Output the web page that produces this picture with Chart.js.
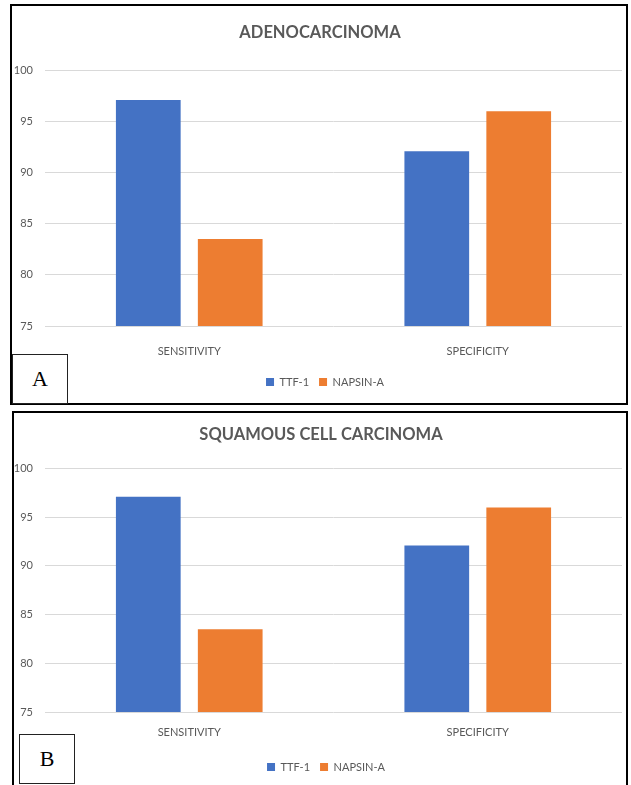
<!DOCTYPE html>
<html>
<head>
<meta charset="utf-8">
<script src="https://cdn.jsdelivr.net/npm/chart.js@4.4.0/dist/chart.umd.min.js"></script>
<style>
  body { margin: 0; width: 631px; height: 785px; overflow: hidden; background: #fff; position: relative; }
  .panel { position: absolute; border: 2.5px solid #000; box-sizing: border-box; }
  .wrap { position: absolute; }
  .tag {
    position: absolute; box-sizing: border-box; border: 1.5px solid #222; background: #fff;
    font-family: "Liberation Serif", serif; font-size: 22px; color: #000;
    display: flex; align-items: center; justify-content: center;
  }
</style>
</head>
<body>
<div class="panel" style="left:10px;top:4px;width:618px;height:401px"></div>
<div class="wrap" style="left:12px;top:6px;width:614px;height:397px"><canvas id="chartA"></canvas></div>
<div class="tag" style="left:12px;top:354px;width:56px;height:50px">A</div>

<div class="panel" style="left:12px;top:411px;width:616px;height:400px"></div>
<div class="wrap" style="left:14px;top:413px;width:612px;height:372px"><canvas id="chartB"></canvas></div>
<div class="tag" style="left:19px;top:734px;width:56px;height:50px">B</div>

<script>
const categories = ["SENSITIVITY", "SPECIFICITY"];
const seriesNames = ["TTF-1", "NAPSIN-A"];

// panel A - adenocarcinoma
const ttf1Adeno = [97.1, 92.1];
const napsinAdeno = [83.5, 96.0];

// panel B - squamous cell carcinoma
const ttf1Squam = [97.1, 92.1];
const napsinSquam = [83.5, 96.0];

const yMin = 75;
const yMax = 100;
const yStep = 5;

const grey = "#595959";

// title and legend sit a bit right of the canvas centre in the original
const nudgeBoxes = {
  id: "nudgeBoxes",
  afterLayout(chart) {
    chart.titleBlock.left += 3;
    chart.titleBlock.right += 3;
    chart.legend.left += 8;
    chart.legend.right += 8;
  },
};

function makeChart(id, title, ttf, napsin, lay) {
  return new Chart(document.getElementById(id), {
    type: "bar",
    data: {
      labels: categories,
      datasets: [
        {
          label: seriesNames[0],
          data: ttf,
          backgroundColor: "#4472C4",
          categoryPercentage: 0.568,
          barPercentage: 0.79,
        },
        {
          label: seriesNames[1],
          data: napsin,
          backgroundColor: "#ED7D31",
          categoryPercentage: 0.568,
          barPercentage: 0.79,
        },
      ],
    },
    options: {
      responsive: true,
      maintainAspectRatio: false,
      animation: false,
      layout: { padding: { left: 0, right: 4, top: 0, bottom: lay.padBottom } },
      plugins: {
        title: {
          display: true,
          text: title,
          color: grey,
          font: { family: "Lato", size: 16.5, weight: "bold" },
          padding: { top: lay.titleTop, bottom: lay.titleBottom },
        },
        legend: {
          position: "bottom",
          labels: {
            boxWidth: 8,
            boxHeight: 8,
            padding: 10,
            color: grey,
            font: { family: "Lato", size: 11 },
          },
        },
        tooltip: { enabled: false },
      },
      scales: {
        x: {
          grid: { display: false, drawTicks: false },
          border: { display: false },
          ticks: { color: grey, font: { family: "Lato", size: 11 }, padding: lay.xPad },
          afterFit: (s) => { s.height = lay.xHeight; },
        },
        y: {
          min: yMin,
          max: yMax,
          ticks: { stepSize: yStep, color: grey, font: { family: "Lato", size: 11 }, padding: 12 },
          grid: { color: "#d9d9d9", lineWidth: 1, drawTicks: false },
          border: { display: false },
          afterFit: (s) => { s.width = lay.yWidth; },
        },
      },
    },
    plugins: [nudgeBoxes],
  });
}

makeChart("chartA", "ADENOCARCINOMA", ttf1Adeno, napsinAdeno, {
  titleTop: 17, titleBottom: 27.6, xPad: 18.4, xHeight: 40.5, padBottom: 5.5, yWidth: 33,
});
makeChart("chartB", "SQUAMOUS CELL CARCINOMA", ttf1Squam, napsinSquam, {
  titleTop: 11.8, titleBottom: 23.8, xPad: 13.4, xHeight: 39.5, padBottom: 2.5, yWidth: 31,
});
</script>
</body>
</html>
